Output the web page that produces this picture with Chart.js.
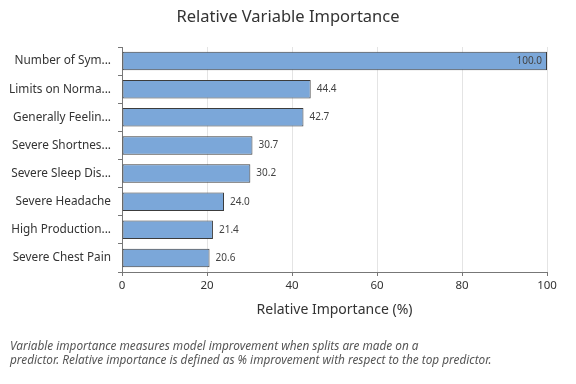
<!DOCTYPE html>
<html>
<head>
<meta charset="utf-8">
<script src="https://cdn.jsdelivr.net/npm/chart.js@4"></script>
<style>
  html, body { margin: 0; padding: 0; background: #fff; }
  #wrap { width: 576px; height: 384px; position: relative; }
</style>
</head>
<body>
<div id="wrap"><canvas id="impChart" width="576" height="384"></canvas></div>
<script>
// Predictors and relative importance (%)
const predictors = [
    'Number of Sym...',
    'Limits on Norma...',
    'Generally Feelin...',
    'Severe Shortnes...',
    'Severe Sleep Dis...',
    'Severe Headache',
    'High Production...',
    'Severe Chest Pain'
];
const importance = [100.0, 44.4, 42.7, 30.7, 30.2, 24.0, 21.4, 20.6];
const xTicks = [0, 20, 40, 60, 80, 100];

const chartTitle = 'Relative Variable Importance';
const axisTitle = 'Relative Importance (%)';
const footNote = [
    'Variable importance measures model improvement when splits are made on a',
    'predictor. Relative importance is defined as % improvement with respect to the top predictor.'
];

const FONT = '"Noto Sans", "Open Sans", sans-serif';

// Valors a la punta de cada barra, títol i nota al peu
const extras = {
    id: 'extras',
    afterDatasetsDraw(chart) {
        const c = chart.ctx;
        const meta = chart.getDatasetMeta(0);
        c.save();
        c.font = '10px ' + FONT;
        c.fillStyle = '#444';
        c.textBaseline = 'middle';
        meta.data.forEach((bar, i) => {
            const txt = importance[i].toFixed(1);
            if (importance[i] >= 90) {
                c.textAlign = 'right';
                c.fillText(txt, bar.x - 5, bar.y);
            } else {
                c.textAlign = 'left';
                c.fillText(txt, bar.x + 6, bar.y);
            }
        });
        c.restore();
    },
    afterDraw(chart) {
        const c = chart.ctx;
        c.save();
        c.fillStyle = '#333';
        c.textAlign = 'center';
        c.textBaseline = 'middle';
        c.font = '16.5px ' + FONT;
        c.fillText(chartTitle, 288, 17);
        c.font = 'italic 11.8px ' + FONT;
        c.fillStyle = '#555';
        c.textAlign = 'left';
        c.fillText(footNote[0], 10, 347);
        c.fillText(footNote[1], 10, 361);
        c.restore();
    }
};

const ctx = document.getElementById('impChart').getContext('2d');
new Chart(ctx, {
    type: 'bar',
    data: {
        labels: predictors,
        datasets: [{
            data: importance,
            backgroundColor: 'rgb(123, 167, 217)',
            borderColor: '#3c3c3c',
            borderWidth: 1,
            borderSkipped: false,
            barPercentage: 1,
            categoryPercentage: 0.66
        }]
    },
    options: {
        indexAxis: 'y',
        responsive: false,
        animation: false,
        layout: { padding: { left: 0, right: 29, top: 47, bottom: 62 } },
        scales: {
            x: {
                min: 0,
                max: 100,
                afterBuildTicks: axis => { axis.ticks = xTicks.map(v => ({ value: v })); },
                afterFit: axis => { axis.height = 50; },
                grid: {
                    color: '#e4e4e4',
                    tickColor: '#777',
                    tickLength: 4
                },
                border: { color: '#777' },
                ticks: {
                    color: '#333',
                    font: { size: 11.5, family: FONT },
                    padding: 3
                },
                title: {
                    display: true,
                    text: axisTitle,
                    color: '#333',
                    font: { size: 14, family: FONT },
                    padding: { top: 0 }
                }
            },
            y: {
                afterFit: axis => { axis.width = 122; },
                grid: {
                    offset: true,
                    drawOnChartArea: false,
                    tickColor: '#777',
                    tickLength: 4
                },
                border: { color: '#777' },
                ticks: {
                    color: '#333',
                    font: { size: 11.8, family: FONT },
                    padding: 7
                }
            }
        },
        plugins: {
            legend: { display: false },
            tooltip: { enabled: false }
        }
    },
    plugins: [extras]
});
</script>
</body>
</html>
